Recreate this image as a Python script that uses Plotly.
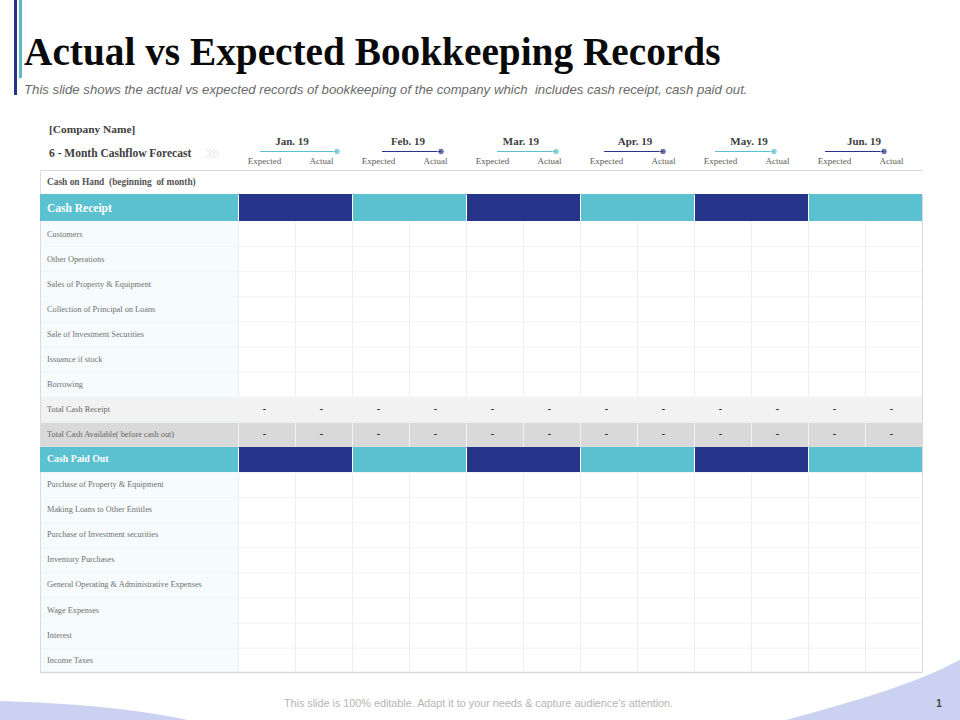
import plotly.graph_objects as go

# chart content
title = "Actual vs Expected Bookkeeping Records"
subtitle = ("This slide shows the actual vs expected records of bookkeeping of the company "
            "which  includes cash receipt, cash paid out.")
footer = "This slide is 100% editable. Adapt it to your needs & capture audience's attention."
months = ["Jan. 19", "Feb. 19", "Mar. 19", "Apr. 19", "May. 19", "Jun. 19"]
receipt_rows = ["Customers", "Other Operations", "Sales of Property & Equipment",
                "Collection of Principal on Loans", "Sale of Investment Securities",
                "Issuance if stock", "Borrowing"]
paid_rows = ["Purchase of Property & Equipment", "Making Loans to Other Entitles",
             "Purchase of Investment securities", "Inventory Purchases",
             "General Operating & Administrative Expenses", "Wage Expenses", "Interest",
             "Income Taxes"]

TEAL = "#5bc0cf"
NAVY = "#263589"
SERIF = "Liberation Serif"
SANS = "Liberation Sans"

# table geometry, in page pixels
LEFT, LABEL_RIGHT, RIGHT = 40, 238, 922
MONTH_W = 114
TOP, HEAD_TOP, BODY_TOP = 170, 194, 221
ROW_H = 25.1
BOTTOM = 672

fig = go.Figure()
shapes = []


def rect(x0, y0, x1, y1, color, layer="below"):
    shapes.append(dict(type="rect", x0=x0, x1=x1, y0=y0, y1=y1, layer=layer,
                       fillcolor=color, line_width=0))


def line(x0, y0, x1, y1, color, width=1):
    # half pixel offset keeps one pixel rules sharp
    shapes.append(dict(type="line", x0=x0 + 0.5, x1=x1 + 0.5, y0=y0 + 0.5, y1=y1 + 0.5, layer="below",
                       line=dict(color=color, width=width)))


def text(x, y, labels, size, color, family=SERIF, weight=400, style="normal", pos="middle right"):
    if isinstance(labels, str):
        x, y, labels = [x], [y], [labels]
    fig.add_trace(go.Scatter(x=x, y=y, text=labels, mode="text", textposition=pos,
                             textfont=dict(size=size, color=color, family=family,
                                           weight=weight, style=style),
                             hoverinfo="skip", showlegend=False))


# accent bars and corner decoration
rect(14, 0, 17, 95, NAVY)
rect(19, 0, 22, 78, "#5fb9c9")
shapes.append(dict(type="path", layer="below", fillcolor="#cbd2f1", line_width=0,
                   path="M 0 701 C 70 703 130 708 188 720 L 0 720 Z"))
shapes.append(dict(type="path", layer="below", fillcolor="#cbd2f1", line_width=0,
                   path="M 786 720 C 850 702 905 688 960 660 L 960 720 Z"))

# row positions
row_y = lambda i: BODY_TOP + i * ROW_H
total_i = len(receipt_rows)
avail_i = total_i + 1
paid_i = total_i + 2
first_paid = total_i + 3
n_rows = first_paid + len(paid_rows)
month_x = [LABEL_RIGHT + k * MONTH_W for k in range(len(months))]

# row backgrounds
rect(LEFT, BODY_TOP, LABEL_RIGHT, BOTTOM, "#f6fcfd")
rect(LEFT, row_y(total_i), RIGHT, row_y(avail_i), "#f2f2f2")
rect(LEFT, row_y(avail_i), RIGHT, row_y(paid_i), "#d9d9d9")

# grid
for i in range(1, n_rows):
    line(LABEL_RIGHT, row_y(i), RIGHT, row_y(i), "#f3f3f3")
    line(LEFT, row_y(i), LABEL_RIGHT, row_y(i), "#eff7f9")
for x in month_x:
    for x_v in (x, x + MONTH_W / 2):
        line(x_v, BODY_TOP, x_v, row_y(total_i), "#eeeeee")
        line(x_v, row_y(avail_i), x_v, row_y(paid_i), "#f2f2f2")
        line(x_v, row_y(first_paid), x_v, BOTTOM, "#eeeeee")
line(LEFT, TOP, RIGHT, TOP, "#d9d9d9")
line(LEFT, TOP, LEFT, BOTTOM, "#dcdcdc")
line(RIGHT, TOP + 24, RIGHT, BOTTOM, "#dcdcdc")
line(LEFT, BOTTOM, RIGHT, BOTTOM, "#d9d9d9", 1.5)

# section bands, alternating navy and teal per month
for y0, y1 in ((HEAD_TOP, BODY_TOP), (row_y(paid_i), row_y(first_paid))):
    rect(LEFT, y0, LABEL_RIGHT, y1, TEAL)
    for k, x in enumerate(month_x):
        rect(x, y0, x + MONTH_W, y1, NAVY if k % 2 == 0 else TEAL)
    for x in month_x:
        line(x, y0, x, y1, "#ffffff")

# month connectors above the expected / actual labels
connector_x0 = [260, 382, 497, 604, 715, 825]
connector_x1 = [337, 441, 556, 663, 774, 884]
month_label_x = [292, 408, 521, 635, 749, 864]
for k in range(len(months)):
    color = TEAL if k % 2 == 0 else NAVY
    fig.add_trace(go.Scatter(x=[connector_x0[k], connector_x1[k]], y=[151.5, 151.5],
                             mode="lines+markers", line=dict(color=color, width=1.2),
                             marker=dict(size=[0, 6.5], color=color),
                             hoverinfo="skip", showlegend=False))

# chevrons next to the forecast label
for x in (205, 209, 213):
    shapes.append(dict(type="path", layer="below", line=dict(color="#e2e2e2", width=1),
                       path=f"M {x} 149 L {x + 6} 153.5 L {x} 158"))

# texts
text(24, 55.5, title, 39.3, "#0a0a0a", weight=700)
text(24, 90.5, subtitle, 13.2, "#6a6a6a", family=SANS, style="italic")
text(49, 130, "[Company Name]", 11.4, "#404040", weight=700)
text(49, 154, "6 - Month Cashflow Forecast", 11.5, "#404040", weight=700)
text(47, 182.5, "Cash on Hand  (beginning  of month)", 9.4, "#555555", weight=700)
text(47, 209, "Cash Receipt", 11.5, "#ffffff", weight=700)
text(47, row_y(paid_i) + 12.5, "Cash Paid Out", 9.8, "#ffffff", weight=700)

text(month_label_x, [142.5] * 6, months, 11, "#404040", weight=700, pos="middle center")
exp_x = [264.5 + MONTH_W * k for k in range(len(months))]
act_x = [321.5 + MONTH_W * k for k in range(len(months))]
text(exp_x, [161.5] * 6, ["Expected"] * 6, 9, "#5a5a5a", pos="middle center")
text(act_x, [161.5] * 6, ["Actual"] * 6, 9, "#5a5a5a", pos="middle center")

text([47] * len(receipt_rows), [row_y(i) + 13.5 for i in range(total_i)], receipt_rows, 8.3, "#707070")
text(47, row_y(total_i) + 13, "Total Cash Receipt", 8.3, "#666666")
text(47, row_y(avail_i) + 13, "Total Cash Available( before cash out)", 8.3, "#666666")
text([47] * len(paid_rows), [row_y(first_paid + i) + 13 for i in range(len(paid_rows))],
     paid_rows, 8.3, "#707070")

dash_x = exp_x + act_x
for i in (total_i, avail_i):
    text(dash_x, [row_y(i) + 13] * len(dash_x), ["-"] * len(dash_x), 10, "#222222", weight=700, pos="middle center")

text(478.5, 704, footer, 10.8, "#b5b5b5", family=SANS, pos="middle center")
text(939, 704, "1", 10, "#404040", family=SANS, weight=700, pos="middle center")

fig.update_layout(
    width=960, height=720, margin=dict(l=0, r=0, t=0, b=0),
    paper_bgcolor="white", plot_bgcolor="white", shapes=shapes, showlegend=False,
    xaxis=dict(range=[0, 960], visible=False, fixedrange=True),
    yaxis=dict(range=[720, 0], visible=False, fixedrange=True),
)

fig.write_html("out.html", config=dict(displayModeBar=False),
               post_script="document.body.style.margin = '0';")
